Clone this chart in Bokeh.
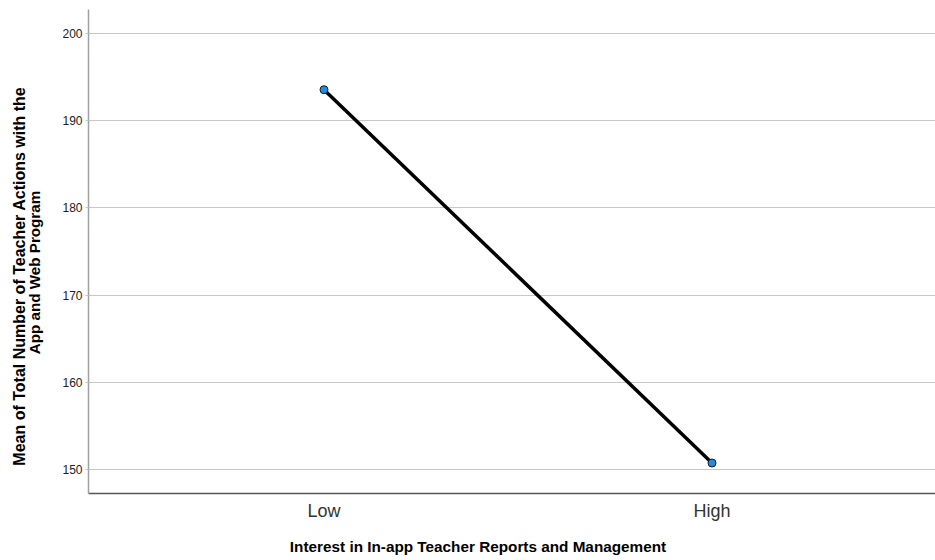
import math
from bokeh.plotting import figure
from bokeh.layouts import row, column
from bokeh.models import Range1d, FixedTicker, ColumnDataSource
from bokeh.core.properties import value
from bokeh.embed import file_html
from bokeh.resources import INLINE

categories = ["Low", "High"]
means = [193.55, 150.75]
y_ticks = [150, 160, 170, 180, 190, 200]
x_title = "Interest in In-app Teacher Reports and Management"
y_title_lines = ["Mean of Total Number of Teacher Actions with the", "App and Web Program"]

xs = list(range(len(categories)))
src = ColumnDataSource(dict(x=xs, y=means, cat=categories))

LAB_W, TOP_H, BOT_H, W = 48, 530, 30, 935

# ---- main chart ----
p = figure(width=W - LAB_W, height=TOP_H, output_backend="svg", toolbar_location=None,
           x_range=Range1d(-0.607, 1.576), y_range=Range1d(147.25, 202.75),
           min_border_left=88 - LAB_W, min_border_right=0, min_border_top=9,
           min_border_bottom=TOP_H - 493)
p.outline_line_color = None
p.background_fill_color = "white"
p.border_fill_color = "white"

p.xgrid.grid_line_color = None
p.ygrid.grid_line_color = "#c8c8c8"
p.ygrid.grid_line_width = 1

p.yaxis.ticker = FixedTicker(ticks=y_ticks)
p.yaxis.minor_tick_line_color = None
p.yaxis.major_tick_in = 0
p.yaxis.major_tick_out = 3
p.yaxis.major_tick_line_color = "#c8c8c8"
p.yaxis.axis_line_color = "#a0a0a0"
p.yaxis.axis_line_width = 1.5
p.yaxis.major_label_text_font = "Liberation Sans"
p.yaxis.major_label_text_font_size = "12px"
p.yaxis.major_label_text_color = "#222222"
p.yaxis.major_label_standoff = 3

p.xaxis.ticker = FixedTicker(ticks=xs)
p.xaxis.major_label_overrides = {i: c for i, c in enumerate(categories)}
p.xaxis.minor_tick_line_color = None
p.xaxis.major_tick_line_color = None
p.xaxis.major_tick_in = 0
p.xaxis.major_tick_out = 0
p.xaxis.axis_line_color = "#555555"
p.xaxis.axis_line_width = 1.5
p.xaxis.major_label_text_font = "Liberation Sans"
p.xaxis.major_label_text_font_size = "18px"
p.xaxis.major_label_text_color = "#333333"
p.xaxis.major_label_standoff = 7

p.line("x", "y", source=src, line_color="black", line_width=3.5)
p.scatter("x", "y", source=src, size=8, fill_color="#1f8ce6", line_color="#1a1a1a", line_width=1)

# ---- y-axis title strip (pixel coordinates, y downward) ----
lab = figure(width=LAB_W, height=TOP_H, output_backend="svg", toolbar_location=None,
             x_range=Range1d(0, LAB_W), y_range=Range1d(TOP_H, 0),
             x_axis_type=None, y_axis_type=None, min_border=0)
lab.outline_line_color = None
lab.grid.visible = False
lab.text(x=[19], y=[292], text=[y_title_lines[0]], angle=math.pi / 2,
         text_font=value("Liberation Sans"), text_font_style="bold", text_font_size="16px",
         text_align="center", text_baseline="alphabetic", text_color="black")
lab.text(x=[34], y=[288], text=[y_title_lines[1]], angle=math.pi / 2,
         text_font=value("Liberation Sans"), text_font_style="bold", text_font_size="15.2px",
         text_align="center", text_baseline="alphabetic", text_color="black")

# ---- x-axis title strip ----
bot = figure(width=W, height=BOT_H, output_backend="svg", toolbar_location=None,
             x_range=Range1d(0, W), y_range=Range1d(TOP_H + BOT_H, TOP_H),
             x_axis_type=None, y_axis_type=None, min_border=0)
bot.outline_line_color = None
bot.grid.visible = False
bot.text(x=[477.5], y=[546], text=[x_title],
         text_font=value("Liberation Sans"), text_font_style="bold", text_font_size="15.3px",
         text_align="center", text_baseline="alphabetic", text_color="black")

layout = column(row(lab, p, spacing=0), bot, spacing=0)
open("out.html", "w").write(file_html(layout, INLINE))
